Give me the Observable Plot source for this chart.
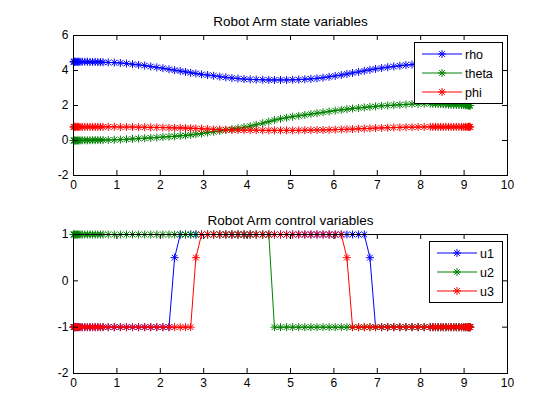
<!DOCTYPE html>
<html><head><meta charset="utf-8">
<script src="https://cdn.jsdelivr.net/npm/d3@7"></script>
<script src="https://cdn.jsdelivr.net/npm/@observablehq/plot@0.6"></script>
<style>
body{margin:0;background:#fff;}
#wrap{position:relative;width:560px;height:420px;background:#fff;font-family:"Liberation Sans",Arial,sans-serif;overflow:hidden;}
#wrap svg{position:absolute;left:0;overflow:visible;}
</style></head><body><div id="wrap"></div>
<script>
// ---- data ----
const time = [0,0.01,0.02,0.04,0.06,0.09,0.12,0.15,0.2,0.26,
0.32,0.38,0.44,0.5,0.56,0.62,0.68,0.8,0.94,1.08,
1.22,1.36,1.5,1.64,1.78,1.92,2.06,2.2,2.33,2.46,
2.58,2.7,2.82,2.95,3.09,3.23,3.37,3.51,3.65,3.79,
3.93,4.07,4.21,4.36,4.5,4.63,4.77,4.91,5.05,5.19,
5.33,5.47,5.61,5.75,5.89,6.03,6.17,6.3,6.43,6.57,
6.7,6.83,6.96,7.1,7.24,7.38,7.52,7.66,7.8,7.94,
8.08,8.22,8.28,8.34,8.4,8.46,8.52,8.58,8.64,8.7,
8.76,8.82,8.88,8.94,8.99,9.03,9.07,9.1,9.12,9.13,
9.14];

const rho = [4.5,4.5,4.5,4.5,4.5,4.5,4.5,4.5,4.5,4.5,
4.5,4.49,4.49,4.49,4.48,4.48,4.47,4.46,4.45,4.43,
4.4,4.36,4.32,4.28,4.23,4.18,4.13,4.07,4.02,3.97,
3.92,3.87,3.83,3.78,3.74,3.7,3.65,3.61,3.57,3.54,
3.51,3.49,3.48,3.47,3.46,3.46,3.46,3.46,3.47,3.48,
3.5,3.52,3.55,3.59,3.64,3.69,3.74,3.8,3.86,3.92,
3.98,4.04,4.09,4.14,4.19,4.23,4.27,4.31,4.34,4.37,
4.4,4.43,4.44,4.45,4.46,4.47,4.47,4.48,4.48,4.49,
4.49,4.49,4.5,4.5,4.5,4.5,4.5,4.5,4.5,4.5,
4.5];

const theta = [0,0,0,0,0,0,0,0.01,0.01,0.01,
0.01,0.01,0.02,0.02,0.02,0.02,0.03,0.03,0.04,0.05,
0.07,0.09,0.11,0.13,0.15,0.17,0.2,0.22,0.24,0.27,
0.29,0.32,0.36,0.4,0.45,0.5,0.55,0.6,0.65,0.7,
0.76,0.82,0.9,0.99,1.08,1.17,1.24,1.3,1.36,1.41,
1.46,1.51,1.56,1.61,1.66,1.71,1.75,1.79,1.83,1.86,
1.89,1.92,1.95,1.98,2.0,2.02,2.04,2.06,2.08,2.09,
2.1,2.1,2.1,2.09,2.09,2.08,2.07,2.06,2.05,2.05,
2.04,2.03,2.03,2.02,2.02,2.01,2.01,2.0,2.0,2.0,
2.0];

const phi = [0.78,0.78,0.78,0.78,0.78,0.78,0.78,0.78,0.78,0.78,
0.78,0.78,0.78,0.78,0.78,0.78,0.78,0.78,0.78,0.77,
0.77,0.77,0.76,0.76,0.75,0.75,0.74,0.73,0.72,0.72,
0.71,0.7,0.69,0.67,0.66,0.64,0.63,0.61,0.6,0.6,
0.59,0.59,0.59,0.58,0.58,0.58,0.58,0.58,0.58,0.58,
0.59,0.59,0.6,0.6,0.61,0.62,0.63,0.64,0.65,0.67,
0.68,0.69,0.71,0.72,0.73,0.74,0.75,0.76,0.76,0.77,
0.77,0.78,0.78,0.78,0.78,0.78,0.78,0.78,0.78,0.78,
0.78,0.78,0.78,0.78,0.78,0.78,0.78,0.78,0.78,0.78,
0.78];

const u1 = [-1,-1,-1,-1,-1,-1,-1,-1,-1,-1,
-1,-1,-1,-1,-1,-1,-1,-1,-1,-1,
-1,-1,-1,-1,-1,-1,-1,-1,0.5,1,
1,1,1,1,1,1,1,1,1,1,
1,1,1,1,1,1,1,1,1,1,
1,1,1,1,1,1,1,1,1,1,
1,0.5,-1,-1,-1,-1,-1,-1,-1,-1,
-1,-1,-1,-1,-1,-1,-1,-1,-1,-1,
-1,-1,-1,-1,-1,-1,-1,-1,-1,-1,
-1];

const u2 = [1,1,1,1,1,1,1,1,1,1,
1,1,1,1,1,1,1,1,1,1,
1,1,1,1,1,1,1,1,1,1,
1,1,1,1,1,1,1,1,1,1,
1,1,1,1,1,-1,-1,-1,-1,-1,
-1,-1,-1,-1,-1,-1,-1,-1,-1,-1,
-1,-1,-1,-1,-1,-1,-1,-1,-1,-1,
-1,-1,-1,-1,-1,-1,-1,-1,-1,-1,
-1,-1,-1,-1,-1,-1,-1,-1,-1,-1,
-1];

const u3 = [-1,-1,-1,-1,-1,-1,-1,-1,-1,-1,
-1,-1,-1,-1,-1,-1,-1,-1,-1,-1,
-1,-1,-1,-1,-1,-1,-1,-1,-1,-1,
-1,-1,0.5,1,1,1,1,1,1,1,
1,1,1,1,1,1,1,1,1,1,
1,1,1,1,1,1,1,0.5,-1,-1,
-1,-1,-1,-1,-1,-1,-1,-1,-1,-1,
-1,-1,-1,-1,-1,-1,-1,-1,-1,-1,
-1,-1,-1,-1,-1,-1,-1,-1,-1,-1,
-1];

const xTicks = [0,1,2,3,4,5,6,7,8,9,10];
const stateTicks = [-2,0,2,4,6];
const controlTicks = [-2,-1,0,1];
const stateNames = ["rho","theta","phi"];
const controlNames = ["u1","u2","u3"];
const colors = ["#0000ff","#008000","#ff0000"];
const titles = ["Robot Arm state variables","Robot Arm control variables"];

// ---- drawing ----
const FONT = '"Liberation Sans", Arial, sans-serif';
const star = {
  draw(ctx, size) {
    const r = Math.sqrt(size / Math.PI), d = r * 0.7071;
    ctx.moveTo(-r, 0); ctx.lineTo(r, 0);
    ctx.moveTo(0, -r); ctx.lineTo(0, r);
    ctx.moveTo(-d, -d); ctx.lineTo(d, d);
    ctx.moveTo(-d, d); ctx.lineTo(d, -d);
  }
};
const wrap = document.getElementById("wrap");

function panel({top, height, mt, mb, yDomain, yTicks, title, series}) {
  const ml = 73, mr = 53;
  const plotH = height - mt - mb, plotW = 560 - ml - mr, tk = 5;
  const marks = [];
  series.forEach((vals, i) => {
    const rows = time.map((t, j) => ({t, v: vals[j]}));
    marks.push(Plot.line(rows, {x: "t", y: "v", stroke: colors[i], strokeWidth: 1}));
    marks.push(Plot.dot(rows, {x: "t", y: "v", stroke: colors[i], symbol: star, r: 4, strokeWidth: 1}));
  });
  marks.push(
    Plot.tickX(xTicks, {x: d => d, insetTop: plotH - tk, stroke: "black"}),
    Plot.tickX(xTicks, {x: d => d, insetBottom: plotH - tk, stroke: "black"}),
    Plot.tickY(yTicks, {y: d => d, insetRight: plotW - tk, stroke: "black"}),
    Plot.tickY(yTicks, {y: d => d, insetLeft: plotW - tk, stroke: "black"}),
    Plot.frame({stroke: "black"}),
    Plot.axisX(xTicks, {tickSize: 0, tickPadding: 5, tickFormat: d => String(d), fontSize: 12, label: null}),
    Plot.axisY(yTicks, {tickSize: 0, tickPadding: 5, tickFormat: d => String(d), fontSize: 12, label: null}),
    Plot.text([title], {frameAnchor: "top", lineAnchor: "bottom", dy: -10, fontSize: 13.5, fill: "black"})
  );
  const svg = Plot.plot({
    width: 560, height, marginTop: mt, marginBottom: mb, marginLeft: ml, marginRight: mr,
    x: {domain: [0, 10], label: null}, y: {domain: yDomain, label: null},
    style: {background: "transparent", fontFamily: FONT, fontSize: "12px", color: "black"},
    marks
  });
  svg.style.top = top + "px";
  wrap.appendChild(svg);
}

function legend({left, top, width, names}) {
  const ns = "http://www.w3.org/2000/svg";
  const rowH = 19, h = 12 + rowH * (names.length - 1) + 11;
  const svg = document.createElementNS(ns, "svg");
  svg.setAttribute("width", width + 1); svg.setAttribute("height", h + 1);
  svg.style.left = left + "px"; svg.style.top = top + "px";
  const rect = document.createElementNS(ns, "rect");
  rect.setAttribute("x", 0.5); rect.setAttribute("y", 0.5);
  rect.setAttribute("width", width); rect.setAttribute("height", h);
  rect.setAttribute("fill", "white"); rect.setAttribute("stroke", "black");
  svg.appendChild(rect);
  names.forEach((n, i) => {
    const y = 12 + rowH * i;
    const ln = document.createElementNS(ns, "line");
    ln.setAttribute("x1", 8); ln.setAttribute("x2", 48);
    ln.setAttribute("y1", y); ln.setAttribute("y2", y);
    ln.setAttribute("stroke", colors[i]);
    svg.appendChild(ln);
    const mk = document.createElementNS(ns, "path");
    mk.setAttribute("d", "M-4,0H4M0,-4V4M-2.83,-2.83L2.83,2.83M-2.83,2.83L2.83,-2.83");
    mk.setAttribute("transform", `translate(28,${y})`);
    mk.setAttribute("stroke", colors[i]); mk.setAttribute("fill", "none");
    svg.appendChild(mk);
    const tx = document.createElementNS(ns, "text");
    tx.setAttribute("x", 51); tx.setAttribute("y", y + 4.5);
    tx.setAttribute("font-family", FONT); tx.setAttribute("font-size", 12.5);
    tx.textContent = n;
    svg.appendChild(tx);
  });
  wrap.appendChild(svg);
}

panel({top: 0, height: 200, mt: 35, mb: 25, yDomain: [-2, 6], yTicks: stateTicks,
  title: titles[0], series: [rho, theta, phi]});
panel({top: 200, height: 210, mt: 34, mb: 37, yDomain: [-2, 1], yTicks: controlTicks,
  title: titles[1], series: [u1, u2, u3]});
legend({left: 414, top: 42, width: 88, names: stateNames});
legend({left: 429, top: 241, width: 73, names: controlNames});
</script></body></html>
